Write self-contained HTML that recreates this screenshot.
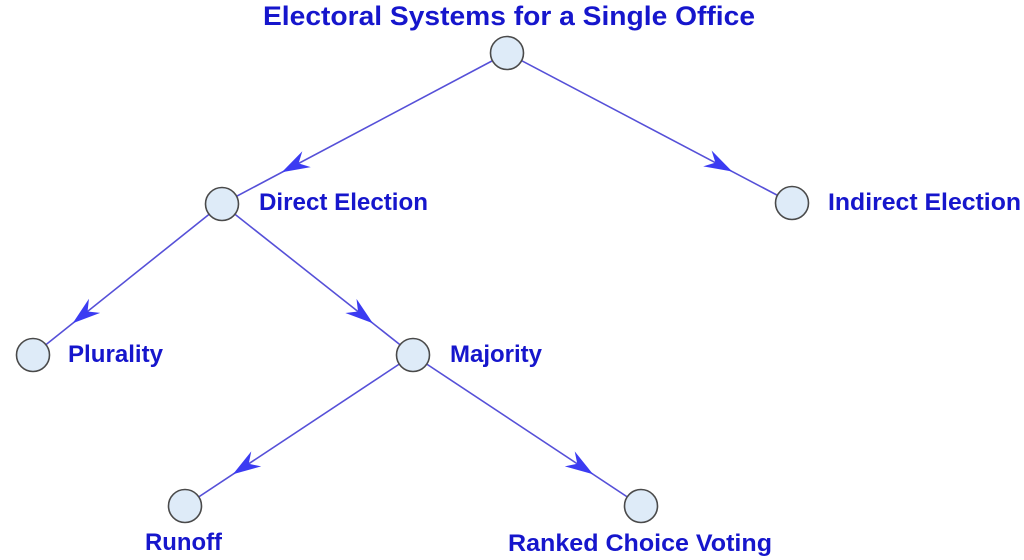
<!DOCTYPE html>
<html>
<head>
<meta charset="utf-8">
<style>
  html, body { margin: 0; padding: 0; background: #ffffff; }
  svg { display: block; }
  text { font-family: "Liberation Sans", Arial, sans-serif; font-weight: bold; fill: #1616cc; }
</style>
</head>
<body>
<svg width="1024" height="560" viewBox="0 0 1024 560" xmlns="http://www.w3.org/2000/svg">
  <rect width="1024" height="560" fill="#ffffff"/>
  <!-- edges -->
  <g stroke="#5650d8" stroke-width="1.6" fill="none">
    <line x1="507" y1="53" x2="222" y2="204"/>
    <line x1="507" y1="53" x2="792" y2="203"/>
    <line x1="222" y1="204" x2="33" y2="355"/>
    <line x1="222" y1="204" x2="413" y2="355"/>
    <line x1="413" y1="355" x2="185" y2="506"/>
    <line x1="413" y1="355" x2="641" y2="506"/>
  </g>
  <!-- arrowheads -->
  <g fill="#3b3bf2">
    <polygon transform="translate(281.8,172.3) rotate(152.08)" points="0,0 -28,-9 -19,0 -28,9"/>
    <polygon transform="translate(732.2,171.5) rotate(27.76)" points="0,0 -28,-9 -19,0 -28,9"/>
    <polygon transform="translate(72.7,323.3) rotate(141.38)" points="0,0 -28,-9 -19,0 -28,9"/>
    <polygon transform="translate(372.9,323.3) rotate(38.33)" points="0,0 -28,-9 -19,0 -28,9"/>
    <polygon transform="translate(232.9,474.3) rotate(146.49)" points="0,0 -28,-9 -19,0 -28,9"/>
    <polygon transform="translate(593.1,474.3) rotate(33.51)" points="0,0 -28,-9 -19,0 -28,9"/>
  </g>
  <!-- nodes -->
  <g fill="#deebf8" stroke="#4a4a4a" stroke-width="1.6">
    <circle cx="507" cy="53" r="16.5"/>
    <circle cx="222" cy="204" r="16.5"/>
    <circle cx="792" cy="203" r="16.5"/>
    <circle cx="33" cy="355" r="16.5"/>
    <circle cx="413" cy="355" r="16.5"/>
    <circle cx="185" cy="506" r="16.5"/>
    <circle cx="641" cy="506" r="16.5"/>
  </g>
  <!-- labels -->
  <text x="263" y="25" font-size="27" textLength="492" lengthAdjust="spacingAndGlyphs">Electoral Systems for a Single Office</text>
  <text x="259" y="210" font-size="24" textLength="169" lengthAdjust="spacingAndGlyphs">Direct Election</text>
  <text x="828" y="210" font-size="24" textLength="193" lengthAdjust="spacingAndGlyphs">Indirect Election</text>
  <text x="68" y="362" font-size="24" textLength="95" lengthAdjust="spacingAndGlyphs">Plurality</text>
  <text x="450" y="362" font-size="24" textLength="92" lengthAdjust="spacingAndGlyphs">Majority</text>
  <text x="145" y="550" font-size="24" textLength="77" lengthAdjust="spacingAndGlyphs">Runoff</text>
  <text x="508" y="551" font-size="24" textLength="264" lengthAdjust="spacingAndGlyphs">Ranked Choice Voting</text>
</svg>
</body>
</html>
